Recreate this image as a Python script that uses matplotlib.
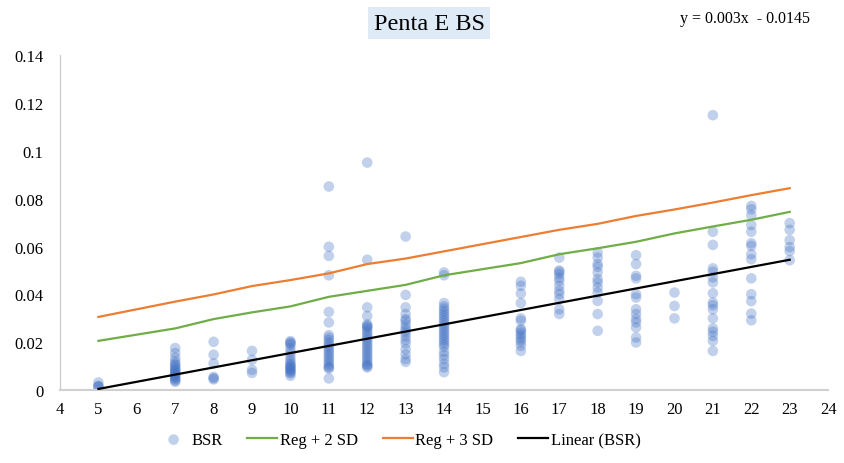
import matplotlib
matplotlib.use("Agg")
import matplotlib.pyplot as plt
from matplotlib.ticker import FuncFormatter

plt.rcParams['font.family'] = ['Liberation Serif', 'DejaVu Serif']

# BSR scatter values, one list per x value
bsr = {
    5: [0.0032, 0.0018, 0.0015, 0.0014],
    7: [0.0176, 0.0155, 0.0135, 0.012, 0.011, 0.0105, 0.0098, 0.009, 0.0085, 0.008,
        0.0075, 0.007, 0.0065, 0.006, 0.0055, 0.005, 0.0045, 0.004, 0.0035],
    8: [0.0202, 0.0148, 0.0112, 0.0055, 0.005, 0.0045],
    9: [0.0164, 0.0127, 0.0085, 0.0072],
    10: [0.0205, 0.02, 0.0195, 0.019, 0.0175, 0.016, 0.0145, 0.013, 0.012, 0.011,
         0.0105, 0.01, 0.0095, 0.009, 0.0085, 0.008, 0.0075, 0.007, 0.006],
    11: [0.0851, 0.0599, 0.0561, 0.048, 0.0327, 0.0283, 0.023, 0.022, 0.021, 0.02,
         0.019, 0.018, 0.017, 0.016, 0.015, 0.014, 0.013, 0.012, 0.011, 0.01,
         0.0095, 0.009, 0.0049],
    12: [0.0951, 0.0545, 0.0346, 0.031, 0.0275, 0.027, 0.0265, 0.026, 0.025, 0.024,
         0.023, 0.022, 0.021, 0.02, 0.019, 0.018, 0.017, 0.016, 0.015, 0.014,
         0.013, 0.012, 0.011, 0.0105, 0.01, 0.0095],
    13: [0.0642, 0.0398, 0.0346, 0.0318, 0.0297, 0.029, 0.0275, 0.026, 0.025, 0.024,
         0.0225, 0.021, 0.0195, 0.0171, 0.015, 0.013, 0.0118],
    14: [0.0492, 0.048, 0.0364, 0.035, 0.034, 0.033, 0.032, 0.031, 0.03, 0.029,
         0.028, 0.027, 0.026, 0.025, 0.024, 0.023, 0.022, 0.021, 0.02, 0.019,
         0.018, 0.016, 0.0145, 0.013, 0.011, 0.0095, 0.0075],
    16: [0.0453, 0.0436, 0.0404, 0.0364, 0.03, 0.029, 0.0255, 0.025, 0.024, 0.023,
         0.022, 0.021, 0.02, 0.0185, 0.0164],
    17: [0.0554, 0.05, 0.0495, 0.0485, 0.047, 0.0457, 0.0436, 0.0415, 0.0401, 0.038,
         0.0338, 0.0318],
    18: [0.0575, 0.0554, 0.0527, 0.0515, 0.0492, 0.0464, 0.045, 0.0429, 0.0408, 0.0373,
         0.0318, 0.0248],
    19: [0.0564, 0.0527, 0.0478, 0.0467, 0.0401, 0.0387, 0.0338, 0.0318, 0.0297, 0.0283,
         0.0262, 0.022, 0.0199],
    20: [0.0408, 0.0352, 0.03],
    21: [0.1149, 0.0662, 0.0607, 0.0509, 0.0495, 0.0471, 0.045, 0.0405, 0.0366, 0.0355,
         0.0338, 0.03, 0.0258, 0.0244, 0.0227, 0.0206, 0.0164],
    22: [0.077, 0.0756, 0.0731, 0.069, 0.0662, 0.0614, 0.0603, 0.0568, 0.0547, 0.0467,
         0.0401, 0.0372, 0.032, 0.0292],
    23: [0.0698, 0.067, 0.0627, 0.0598, 0.0581, 0.0543],
}

line_x = [5, 7, 8, 9, 10, 11, 12, 13, 14, 16, 17, 18, 19, 20, 21, 22, 23]
reg_2sd = [0.0206, 0.0258, 0.0297, 0.0325, 0.035, 0.039, 0.0415, 0.044, 0.048,
           0.0531, 0.0568, 0.0593, 0.062, 0.0655, 0.0684, 0.0712, 0.0745]
reg_3sd = [0.0306, 0.037, 0.040, 0.0435, 0.046, 0.0488, 0.0527, 0.055, 0.058,
           0.064, 0.067, 0.0695, 0.0728, 0.0755, 0.0784, 0.0815, 0.0844]

slope = 0.003
intercept = -0.0145
trend_x = [5, 23]

x_ticks = list(range(4, 25))
y_ticks = [0, 0.02, 0.04, 0.06, 0.08, 0.1, 0.12, 0.14]

fig = plt.figure(figsize=(8.45, 4.64), dpi=100)
ax = fig.add_axes([0.071, 0.157, 0.909, 0.722])

# scatter
sx = [x for x, vals in bsr.items() for _ in vals]
sy = [v for vals in bsr.values() for v in vals]
ax.scatter(sx, sy, s=58, color='#4472C4', alpha=0.33, edgecolors='none',
           label='BSR', zorder=2)

ax.plot(line_x, reg_2sd, color='#70AD47', lw=1.6, label='Reg + 2 SD', zorder=3)
ax.plot(line_x, reg_3sd, color='#ED7D31', lw=1.6, label='Reg + 3 SD', zorder=3)
ax.plot(trend_x, [slope * x + intercept for x in trend_x], color='black', lw=1.6,
        label='Linear (BSR)', zorder=4)

ax.set_xlim(4, 24)
ax.set_ylim(0, 0.14)
ax.set_xticks(x_ticks)
ax.set_yticks(y_ticks)
ax.yaxis.set_major_formatter(FuncFormatter(lambda v, p: f"{v:g}"))
ax.tick_params(length=0, labelsize=12)
ax.tick_params(axis='y', pad=12)
ax.tick_params(axis='x', pad=8)

for s in ['top', 'right']:
    ax.spines[s].set_visible(False)
ax.spines['left'].set_color('#C8C8C8')
ax.spines['left'].set_linewidth(0.8)
ax.spines['bottom'].set_color('#D0D0D0')
ax.spines['bottom'].set_linewidth(1.5)

fig.text(0.508, 0.948, 'Penta E BS', ha='center', va='center', fontsize=17.5,
         bbox=dict(boxstyle='square,pad=0.22', fc='#DEEBF7', ec='none'))
fig.text(0.882, 0.958, 'y = 0.003x  - 0.0145', ha='center', va='center', fontsize=11.5)

fig.legend(loc='lower center', bbox_to_anchor=(0.473, 0.0), ncol=4, frameon=False,
           fontsize=12, columnspacing=1.5, handlelength=1.8, handletextpad=0.15)

fig.savefig('out.png', dpi=100)
